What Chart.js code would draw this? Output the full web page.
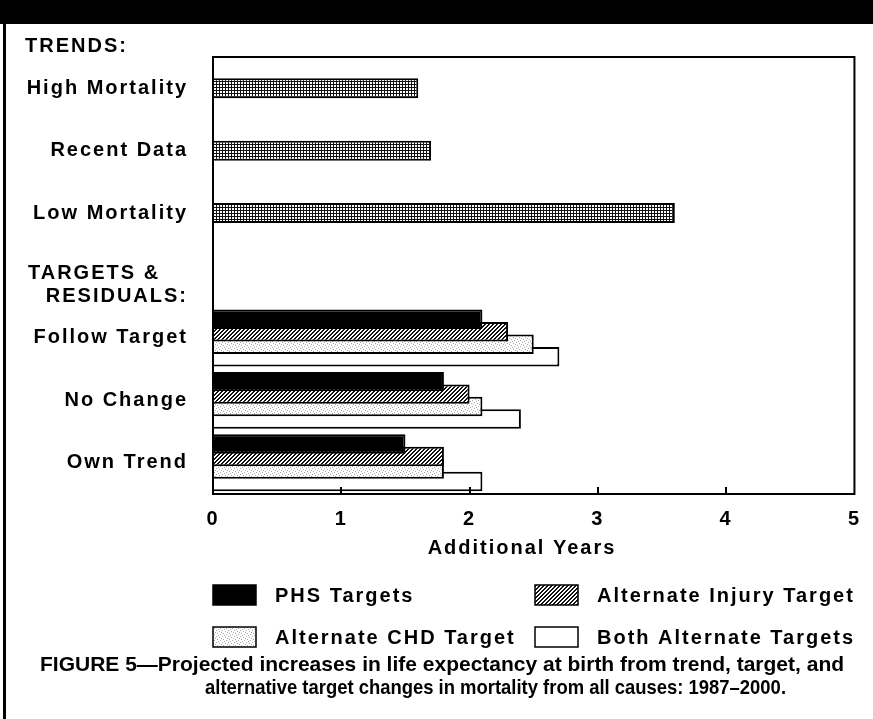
<!DOCTYPE html>
<html>
<head>
<meta charset="utf-8">
<script src="https://cdn.jsdelivr.net/npm/chart.js@4.4.1/dist/chart.umd.min.js"></script>
<style>
  html, body { margin: 0; padding: 0; background: #fff; }
  canvas { display: block; }
</style>
</head>
<body>
<canvas id="chart" width="873" height="719"></canvas>
<script>
// values
const categories = ['High Mortality', 'Recent Data', 'Low Mortality', '', 'Follow Target', 'No Change', 'Own Trend'];
const trendValues = [1.6, 1.7, 3.6, null, null, null, null];
const phsTargets = [null, null, null, null, 2.1, 1.8, 1.5];
const injuryTarget = [null, null, null, null, 2.3, 2.0, 1.8];
const chdTarget = [null, null, null, null, 2.5, 2.1, 1.8];
const bothTargets = [null, null, null, null, 2.7, 2.4, 2.1];
const xTicks = [0, 1, 2, 3, 4, 5];
const seriesNames = ['PHS Targets', 'Alternate Injury Target', 'Alternate CHD Target', 'Both Alternate Targets'];
const sectionHeads = ['TRENDS:', 'TARGETS &', 'RESIDUALS:'];
const axisTitle = 'Additional Years';
const caption = [
    'FIGURE 5\u2014Projected increases in life expectancy at birth from trend, target, and',
    'alternative target changes in mortality from all causes: 1987\u20132000.'
];

const family = '"Liberation Sans", Arial, Helvetica, sans-serif';
const labelFont = { family: family, size: 20, weight: 'bold' };
const labelCss = 'bold 20px ' + family;

const canvas = document.getElementById('chart');
const ctx = canvas.getContext('2d');

function makePattern(size, paint) {
    const tile = document.createElement('canvas');
    tile.width = size;
    tile.height = size;
    const t = tile.getContext('2d');
    t.fillStyle = '#fff';
    t.fillRect(0, 0, size, size);
    t.fillStyle = '#111';
    paint(t);
    return ctx.createPattern(tile, 'repeat');
}

// fine screen on the trend bars
const screenFill = makePattern(3, (t) => {
    t.fillRect(0, 0, 3, 1);
    t.fillRect(0, 0, 1, 3);
});
// diagonal hatch
const hatchFill = makePattern(4, (t) => {
    for (let i = 0; i < 4; i++) {
        t.fillRect((4 - i) % 4, i, 1, 1);
        t.fillRect((5 - i) % 4, i, 1, 1);
    }
});
// light stipple
const stippleFill = makePattern(6, (t) => {
    t.fillStyle = '#a8a8a8';
    [[0, 0], [3, 1], [1, 3], [4, 4], [5, 2], [2, 5]].forEach(([x, y]) => t.fillRect(x, y, 1, 1));
});

const targetOpts = {
    borderColor: '#000',
    borderWidth: 2,
    categoryPercentage: 0.8,
    barPercentage: 1.56,
    skipNull: true
};

const figurePlugin = {
    id: 'figure',
    beforeDraw(chart) {
        const c = chart.ctx;
        c.save();
        c.fillStyle = '#fff';
        c.fillRect(0, 0, chart.width, chart.height);
        c.restore();
        c.letterSpacing = '2px';
    },
    afterDraw(chart) {
        const c = chart.ctx;
        const area = chart.chartArea;
        const xScale = chart.scales.x;
        c.save();

        // page frame
        c.fillStyle = '#000';
        c.fillRect(0, 0, chart.width, 24);
        c.fillRect(3, 0, 3, chart.height);

        // plot box + inner ticks
        c.strokeStyle = '#000';
        c.lineWidth = 2;
        c.strokeRect(area.left, area.top, area.right - area.left, area.bottom - area.top);
        xTicks.slice(1, -1).forEach((v) => {
            const px = Math.round(xScale.getPixelForValue(v));
            c.beginPath();
            c.moveTo(px, area.bottom);
            c.lineTo(px, area.bottom - 7);
            c.stroke();
        });

        // section heads and axis title
        c.font = labelCss;
        c.fillStyle = '#000';
        c.textBaseline = 'middle';
        c.textAlign = 'left';
        c.fillText(sectionHeads[0], 25, 46);
        c.fillText(sectionHeads[1], 28, 273);
        c.textAlign = 'right';
        c.fillText(sectionHeads[2], 188, 296);
        c.textAlign = 'center';
        c.fillText(axisTitle, 522, 548);

        // legend, 2 x 2
        const spots = [[213, 585], [535, 585], [213, 627], [535, 627]];
        c.textAlign = 'left';
        c.lineWidth = 1.5;
        chart.data.datasets.slice(1).forEach((ds, i) => {
            const [bx, by] = spots[i];
            c.fillStyle = ds.backgroundColor;
            c.fillRect(bx, by, 43, 20);
            c.strokeRect(bx, by, 43, 20);
            c.fillStyle = '#000';
            c.fillText(ds.label, bx + 62, by + 11);
        });

        // caption
        c.letterSpacing = '0px';
        c.font = 'bold 21px ' + family;
        c.fillText(caption[0], 40, 665, 811);
        c.fillText(caption[1], 205, 688, 581);
        c.restore();
    }
};

new Chart(ctx, {
    type: 'bar',
    data: {
        labels: categories,
        datasets: [
            {
                label: 'Trends',
                data: trendValues,
                backgroundColor: screenFill,
                borderColor: '#000',
                borderWidth: 2,
                categoryPercentage: 0.8,
                barPercentage: 0.4,
                skipNull: true
            },
            { label: seriesNames[0], data: phsTargets, backgroundColor: '#000', ...targetOpts },
            { label: seriesNames[1], data: injuryTarget, backgroundColor: hatchFill, ...targetOpts },
            { label: seriesNames[2], data: chdTarget, backgroundColor: stippleFill, ...targetOpts },
            { label: seriesNames[3], data: bothTargets, backgroundColor: '#fff', ...targetOpts }
        ]
    },
    options: {
        indexAxis: 'y',
        responsive: false,
        animation: false,
        layout: {
            padding: { left: 0, right: 17, top: 57, bottom: 155 }
        },
        plugins: {
            legend: { display: false },
            tooltip: { enabled: false }
        },
        scales: {
            x: {
                type: 'linear',
                min: 0,
                max: 5,
                afterBuildTicks(scale) {
                    scale.ticks = xTicks.map((v) => ({ value: v }));
                },
                afterFit(scale) {
                    scale.height = 70;
                },
                grid: { display: false, drawTicks: false },
                border: { display: false },
                ticks: { color: '#000', font: labelFont, padding: 13, maxRotation: 0 }
            },
            y: {
                type: 'category',
                afterFit(scale) {
                    scale.width = 213;
                },
                grid: { display: false, drawTicks: false },
                border: { display: false },
                ticks: { color: '#000', font: labelFont, padding: 25, autoSkip: false }
            }
        }
    },
    plugins: [figurePlugin]
});
</script>
</body>
</html>
